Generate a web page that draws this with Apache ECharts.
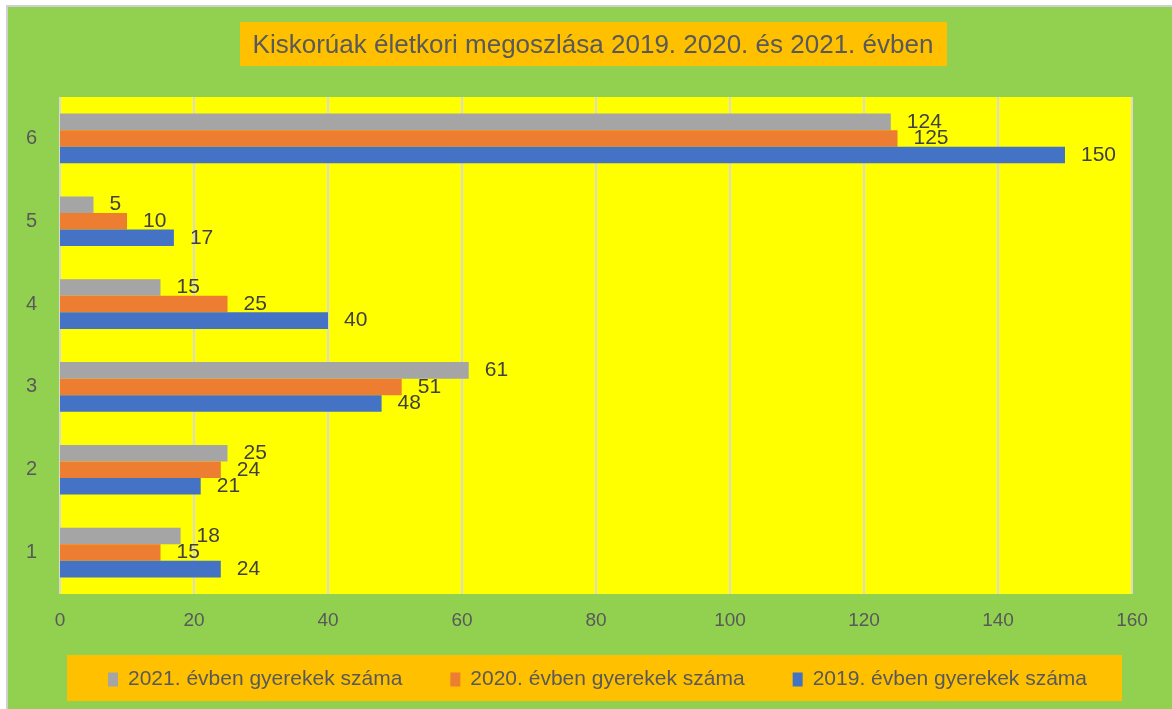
<!DOCTYPE html>
<html>
<head>
<meta charset="utf-8">
<script src="https://cdn.jsdelivr.net/npm/echarts@6/dist/echarts.min.js"></script>
<style>
  html, body { margin: 0; padding: 0; background: #fff; }
  #chart { width: 1172px; height: 709px; }
</style>
</head>
<body>
<div id="chart"></div>
<script>
// age groups (y axis, bottom to top)
const categories = ["1", "2", "3", "4", "5", "6"];
const xTicks = [0, 20, 40, 60, 80, 100, 120, 140, 160];

const seriesNames = [
    "2021. évben gyerekek száma",
    "2020. évben gyerekek száma",
    "2019. évben gyerekek száma"
];
const values2021 = [18, 25, 61, 15, 5, 124];
const values2020 = [15, 24, 51, 25, 10, 125];
const values2019 = [24, 21, 48, 40, 17, 150];
const colors = ["#A5A5A5", "#ED7D31", "#4472C4"];

const font = "'Liberation Sans', Arial, sans-serif";

const chart = echarts.init(document.getElementById("chart"));

function barSeries(name, data, color) {
    return {
        type: "bar",
        name: name,
        data: data,
        barGap: "0%",
        barCategoryGap: "40%",
        itemStyle: { color: color },
        label: {
            show: true,
            position: "right",
            distance: 16,
            color: "#404040",
            fontFamily: font,
            fontSize: 21
        }
    };
}

chart.setOption({
    backgroundColor: "#92D050",
    animation: false,
    title: {
        text: "Kiskorúak életkori megoszlása 2019. 2020. és 2021. évben",
        left: 593,
        top: 33,
        textAlign: "center",
        padding: 0,
        textStyle: {
            color: "#595959",
            fontFamily: font,
            fontWeight: "normal",
            fontSize: 26
        }
    },
    graphic: [
        { type: "rect", z: -10, shape: { x: 0, y: 0, width: 7, height: 709 }, style: { fill: "#fff" } },
        { type: "rect", z: -10, shape: { x: 0, y: 0, width: 1172, height: 6 }, style: { fill: "#fff" } },
        { type: "rect", z: -9, shape: { x: 6, y: 5, width: 2, height: 704 }, style: { fill: "#D0D0D0" } },
        { type: "rect", z: -9, shape: { x: 6, y: 5, width: 1166, height: 2 }, style: { fill: "#D0D0D0" } },
        { type: "rect", z: -8, shape: { x: 240, y: 22, width: 707, height: 44 }, style: { fill: "#FFC000" } },
        { type: "rect", z: -8, shape: { x: 67, y: 655, width: 1055, height: 46 }, style: { fill: "#FFC000" } }
    ],
    legend: {
        data: seriesNames,
        left: 103,
        top: 664,
        itemWidth: 10,
        itemHeight: 14,
        itemGap: 48,
        icon: "rect",
        textStyle: {
            color: "#595959",
            fontFamily: font,
            fontSize: 21,
            padding: [0, 0, 0, 5]
        }
    },
    grid: {
        left: 60,
        top: 97,
        width: 1072,
        height: 497,
        show: true,
        backgroundColor: "#FFFF00",
        borderWidth: 0
    },
    xAxis: {
        type: "value",
        min: xTicks[0],
        max: xTicks[xTicks.length - 1],
        interval: xTicks[1] - xTicks[0],
        axisLine: { show: false },
        axisTick: { show: false },
        splitLine: { lineStyle: { color: "#D9D9D9", width: 2 } },
        axisLabel: {
            color: "#595959",
            fontFamily: font,
            fontSize: 19,
            margin: 17
        }
    },
    yAxis: {
        type: "category",
        data: categories,
        axisLine: { show: false },
        axisTick: { show: false },
        axisLabel: {
            color: "#595959",
            fontFamily: font,
            fontSize: 20,
            margin: 23
        }
    },
    series: [
        barSeries(seriesNames[0], values2021, colors[0]),
        barSeries(seriesNames[1], values2020, colors[1]),
        barSeries(seriesNames[2], values2019, colors[2])
    ]
});
</script>
</body>
</html>
